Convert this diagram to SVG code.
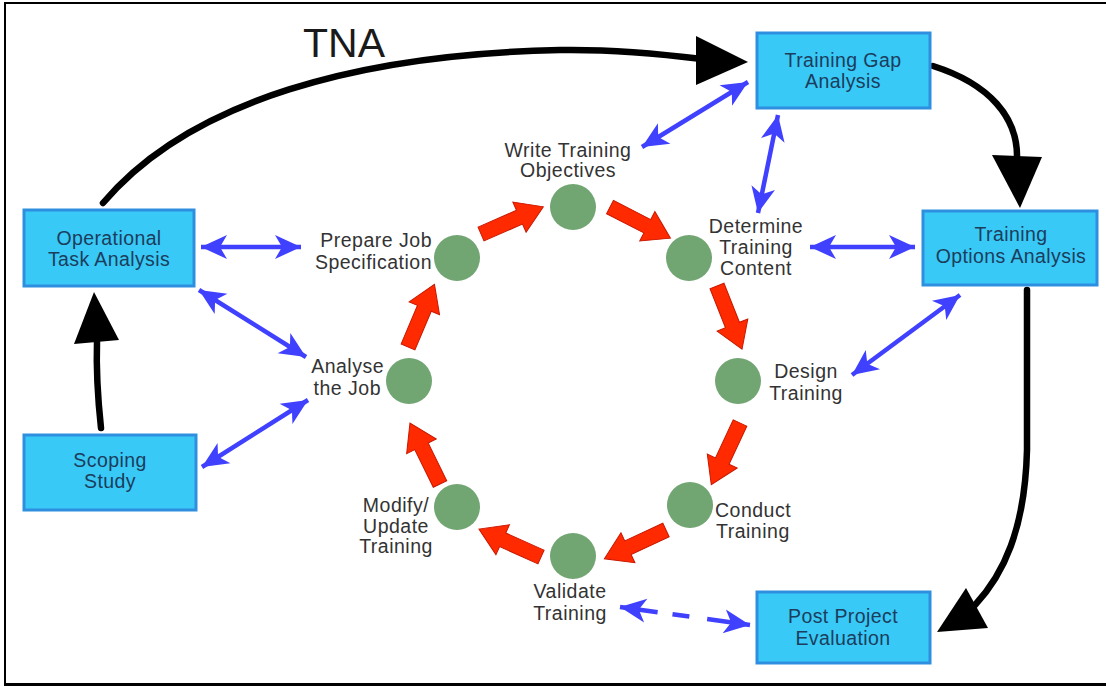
<svg xmlns="http://www.w3.org/2000/svg" width="1106" height="686" viewBox="0 0 1106 686">
<defs>
<style>
.box{fill:#38c9f7;stroke:#2e8fe0;stroke-width:3}
.bt{font-family:"Liberation Sans",Arial,sans-serif;font-size:19.5px;letter-spacing:0.4px;fill:#1c3d5c;text-anchor:middle}
.lt{font-family:"Liberation Sans",Arial,sans-serif;font-size:19.5px;letter-spacing:0.5px;fill:#333}
.dot{fill:#71a572}
.red{fill:#ff2a00;stroke:#c81800;stroke-width:1}
.blue{stroke:#4040ff;stroke-width:4.5;fill:none;marker-start:url(#bh);marker-end:url(#bh)}
.blk{stroke:#000;stroke-width:6.5;fill:none;stroke-linecap:round}
</style>
<marker id="bh" markerUnits="userSpaceOnUse" viewBox="-28 -14 30 28" markerWidth="30" markerHeight="28" refX="0" refY="0" orient="auto-start-reverse">
<path d="M0,0 L-26,-12 L-19,0 L-26,12 Z" fill="#4040ff"/>
</marker>
<path id="ra" d="M0,-7.5 L42,-7.5 L42,-16.5 L68,0 L42,16.5 L42,7.5 L0,7.5 Z"/>
</defs>
<rect width="1106" height="686" fill="#fff"/>
<g id="frame" stroke="#000" fill="none">
<line x1="5" y1="2" x2="5" y2="686" stroke-width="2"/>
<line x1="4" y1="3" x2="1106" y2="3" stroke-width="2"/>
<line x1="4" y1="684.5" x2="1106" y2="684.5" stroke-width="3"/>
</g>
<g id="connectors">
<path class="blk" d="M103,203 C190,100 360,54 560,50 C620,49 670,55 702,59"/>
<polygon points="696,36 748,62 696,85" fill="#000"/>
<path class="blk" d="M933,66 C990,84 1018,118 1017,158"/>
<polygon points="992,155 1042,157 1020,208" fill="#000"/>
<path class="blk" d="M1027,290 L1027,450 C1025,530 1003,575 975,605"/>
<polygon points="966,588 988,628 937,632" fill="#000"/>
<path class="blk" d="M101,428 C98,400 96,372 97,342"/>
<polygon points="74,344 119,340 94,292" fill="#000"/>
<line class="blue" x1="201" y1="247" x2="301" y2="247"/>
<line class="blue" x1="199" y1="290" x2="306" y2="357"/>
<line class="blue" x1="202" y1="467" x2="308" y2="400"/>
<line class="blue" x1="642" y1="147" x2="748" y2="82"/>
<line class="blue" x1="778" y1="115" x2="758" y2="213"/>
<line class="blue" x1="810" y1="247" x2="915" y2="247"/>
<line class="blue" x1="852" y1="375" x2="960" y2="295"/>
<line class="blue" x1="620" y1="607" x2="750" y2="625" stroke-dasharray="38 15 17 18 50"/>
<use href="#ra" class="red" transform="translate(408,347) rotate(-67.1)"/>
<use href="#ra" class="red" transform="translate(481,234) rotate(-23.6)"/>
<use href="#ra" class="red" transform="translate(610,207) rotate(27.3)"/>
<use href="#ra" class="red" transform="translate(717,286) rotate(68.4)"/>
<use href="#ra" class="red" transform="translate(740,423) rotate(115)"/>
<use href="#ra" class="red" transform="translate(666,530) rotate(155)"/>
<use href="#ra" class="red" transform="translate(541,557) rotate(204.2)"/>
<use href="#ra" class="red" transform="translate(440,484) rotate(243.8)"/>
</g>
<text x="303" y="57" font-family="'Liberation Sans',Arial,sans-serif" font-size="41" fill="#1a1a1a">TNA</text>
<g id="op-task"><rect class="box" x="24" y="210" width="170" height="76"/><text class="bt" x="109" y="245">Operational</text><text class="bt" x="109" y="266">Task Analysis</text></g>
<g id="scoping"><rect class="box" x="24" y="435" width="172" height="75"/><text class="bt" x="110" y="467">Scoping</text><text class="bt" x="110" y="488">Study</text></g>
<g id="gap"><rect class="box" x="757" y="33" width="173" height="75"/><text class="bt" x="843" y="67">Training Gap</text><text class="bt" x="843" y="88">Analysis</text></g>
<g id="options"><rect class="box" x="923" y="211" width="174" height="74"/><text class="bt" x="1011" y="241">Training</text><text class="bt" x="1011" y="263">Options Analysis</text></g>
<g id="post"><rect class="box" x="757" y="592" width="173" height="71"/><text class="bt" x="843" y="623">Post Project</text><text class="bt" x="843" y="645">Evaluation</text></g>
<g id="write"><circle class="dot" cx="573" cy="207" r="23"/><text class="lt" x="568" y="157" text-anchor="middle">Write Training</text><text class="lt" x="568" y="177" text-anchor="middle">Objectives</text></g>
<g id="determine"><circle class="dot" cx="689" cy="258" r="23"/><text class="lt" x="756" y="233" text-anchor="middle">Determine</text><text class="lt" x="756" y="254" text-anchor="middle">Training</text><text class="lt" x="756" y="275" text-anchor="middle">Content</text></g>
<g id="design"><circle class="dot" cx="738" cy="381" r="23"/><text class="lt" x="806" y="378" text-anchor="middle">Design</text><text class="lt" x="806" y="400" text-anchor="middle">Training</text></g>
<g id="conduct"><circle class="dot" cx="690" cy="505" r="23"/><text class="lt" x="715" y="517">Conduct</text><text class="lt" x="716" y="538">Training</text></g>
<g id="validate"><circle class="dot" cx="573" cy="556" r="23"/><text class="lt" x="570" y="598" text-anchor="middle">Validate</text><text class="lt" x="570" y="620" text-anchor="middle">Training</text></g>
<g id="modify"><circle class="dot" cx="457" cy="507" r="23"/><text class="lt" x="396" y="512" text-anchor="middle">Modify/</text><text class="lt" x="396" y="533" text-anchor="middle">Update</text><text class="lt" x="396" y="553" text-anchor="middle">Training</text></g>
<g id="analyse"><circle class="dot" cx="409" cy="381" r="23"/><text class="lt" x="384" y="373" text-anchor="end">Analyse</text><text class="lt" x="381" y="395" text-anchor="end">the Job</text></g>
<g id="prepare"><circle class="dot" cx="457" cy="258" r="23"/><text class="lt" x="432" y="247" text-anchor="end">Prepare Job</text><text class="lt" x="432" y="269" text-anchor="end">Specification</text></g>
</svg>
